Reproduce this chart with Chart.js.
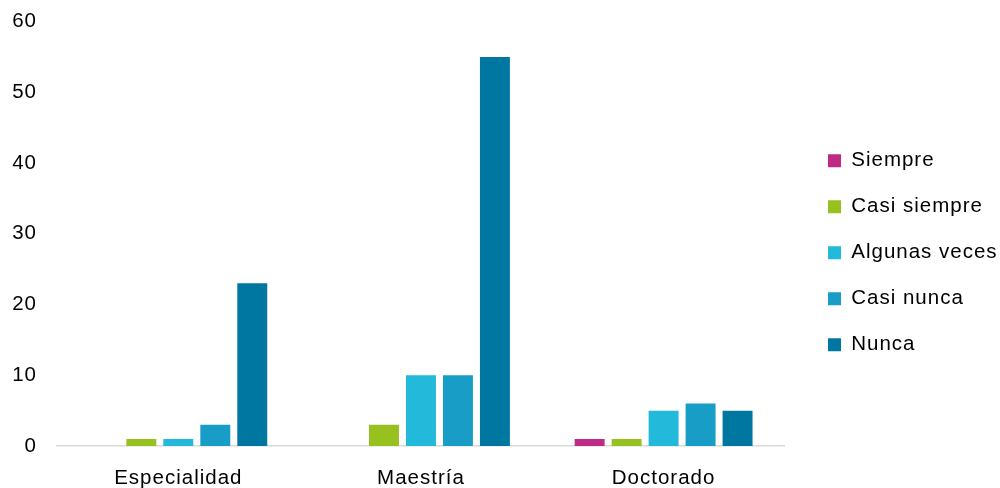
<!DOCTYPE html>
<html>
<head>
<meta charset="utf-8">
<script src="https://cdn.jsdelivr.net/npm/chart.js@4"></script>
<style>
  html, body { margin: 0; padding: 0; background: #fff; }
  #wrap { width: 1000px; height: 488px; position: relative; }
</style>
</head>
<body>
<div id="wrap"><canvas id="grafico"></canvas></div>
<script>
// Datos
const categorias = ['Especialidad', 'Maestría', 'Doctorado'];
const siempre = [0, 0, 1];
const casiSiempre = [1, 3, 1];
const algunasVeces = [1, 10, 5];
const casiNunca = [3, 10, 6];
const nunca = [23, 55, 5];
const ticksY = [0, 10, 20, 30, 40, 50, 60];

const fuente = { family: '"Liberation Sans", Arial, sans-serif', size: 20.5 };

// espaciado de letras como en el original
const espaciado = {
  id: 'espaciado',
  beforeUpdate(chart) { chart.ctx.letterSpacing = '1px'; },
  beforeDraw(chart) { chart.ctx.letterSpacing = '1px'; },
  afterLayout(chart) {
    // colocar la leyenda
    const lg = chart.legend;
    const dx = 828 - 25.5 - lg.left;
    lg.left += dx; lg.right += dx;
    lg.top -= 2; lg.bottom -= 2;
  }
};

const ctx = document.getElementById('grafico').getContext('2d');
const grafico = new Chart(ctx, {
  type: 'bar',
  data: {
    labels: categorias,
    datasets: [
      { label: 'Siempre', data: siempre, backgroundColor: '#BE2A86' },
      { label: 'Casi siempre', data: casiSiempre, backgroundColor: '#97C11F' },
      { label: 'Algunas veces', data: algunasVeces, backgroundColor: '#22B9DB' },
      { label: 'Casi nunca', data: casiNunca, backgroundColor: '#179DC6' },
      { label: 'Nunca', data: nunca, backgroundColor: '#0077A1' }
    ]
  },
  options: {
    responsive: true,
    maintainAspectRatio: false,
    animation: false,
    categoryPercentage: 0.762,
    barPercentage: 0.81,
    layout: {
      padding: { top: 21.5, right: 10, bottom: 0, left: 0 }
    },
    plugins: {
      legend: {
        position: 'right',
        labels: {
          boxWidth: 13,
          boxHeight: 13,
          padding: 25.5,
          color: '#000',
          font: fuente
        }
      },
      tooltip: { enabled: false }
    },
    scales: {
      y: {
        min: 0,
        max: 60,
        afterFit(scale) { scale.width = 57; scale.paddingTop = 0; },
        afterBuildTicks(scale) { scale.ticks = ticksY.map(v => ({ value: v })); },
        ticks: { color: '#000', font: fuente, padding: 12 },
        grid: { display: false },
        border: { display: false }
      },
      x: {
        afterFit(scale) { scale.height = 42; },
        ticks: { color: '#000', font: fuente, padding: 12 },
        grid: { display: false },
        border: { display: true, color: '#D9D9D9', width: 1.5 }
      }
    }
  },
  plugins: [espaciado]
});
</script>
</body>
</html>
